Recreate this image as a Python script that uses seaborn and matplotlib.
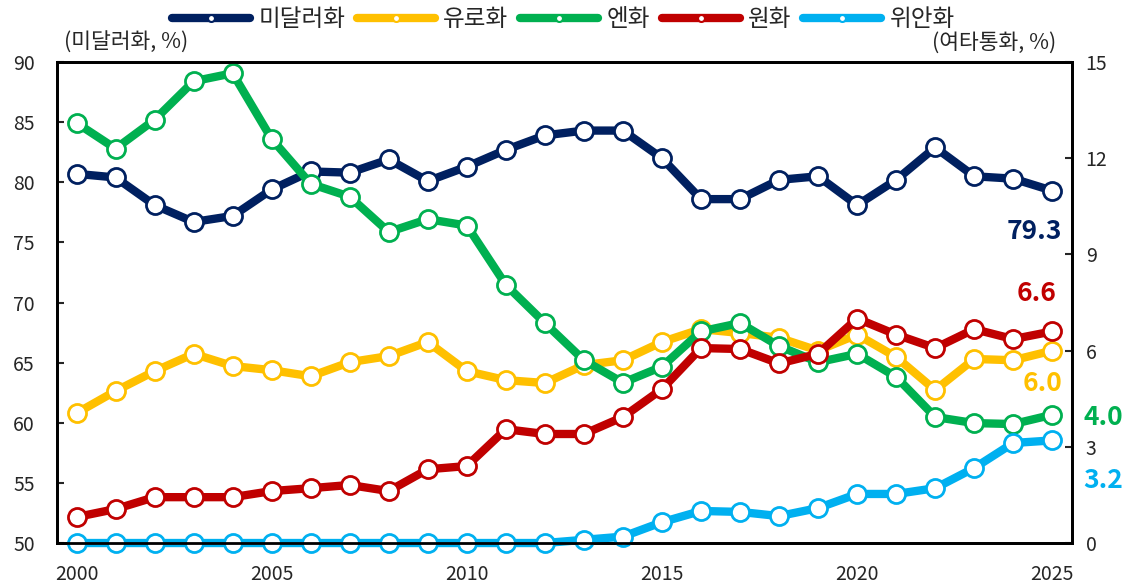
import numpy as np
import pandas as pd
import matplotlib
matplotlib.use('Agg')
import matplotlib.pyplot as plt
import seaborn as sns
from matplotlib.lines import Line2D
from matplotlib.ticker import MultipleLocator

# data (share of global FX transactions, %)
years = list(range(2000, 2026))
usd = [80.7, 80.4, 78.1, 76.7, 77.2, 79.4, 80.9, 80.8, 81.9, 80.1, 81.3, 82.7, 83.9,
       84.3, 84.3, 82.0, 78.6, 78.6, 80.2, 80.5, 78.1, 80.2, 82.9, 80.5, 80.3, 79.3]
eur = [4.05, 4.74, 5.36, 5.9, 5.52, 5.39, 5.2, 5.64, 5.83, 6.27, 5.36, 5.08, 4.99,
       5.55, 5.7, 6.27, 6.67, 6.55, 6.4, 6.0, 6.5, 5.8, 4.77, 5.74, 5.7, 6.0]
jpy = [13.1, 12.3, 13.2, 14.4, 14.65, 12.6, 11.2, 10.8, 9.7, 10.1, 9.9, 8.05, 6.86,
       5.7, 5.0, 5.5, 6.6, 6.86, 6.14, 5.64, 5.9, 5.18, 3.93, 3.74, 3.71, 4.0]
krw = [0.81, 1.06, 1.43, 1.43, 1.43, 1.62, 1.71, 1.81, 1.62, 2.3, 2.4, 3.55, 3.4,
       3.4, 3.93, 4.8, 6.08, 6.05, 5.6, 5.9, 7.0, 6.5, 6.08, 6.67, 6.36, 6.6]
cny = [0, 0, 0, 0, 0, 0, 0, 0, 0, 0, 0, 0, 0,
       0.1, 0.2, 0.65, 1.0, 0.97, 0.84, 1.09, 1.53, 1.53, 1.71, 2.34, 3.12, 3.2]

names = ['미달러화', '유로화', '엔화', '원화', '위안화']
colors = {'미달러화': '#002060', '유로화': '#FFC000', '엔화': '#00B050',
          '원화': '#C00000', '위안화': '#00B0F0'}

df = pd.DataFrame({'year': years, '미달러화': usd, '유로화': eur,
                   '엔화': jpy, '원화': krw, '위안화': cny})

sns.set_style('white')
plt.rcParams['font.family'] = ['Noto Sans CJK KR', 'DejaVu Sans']

fig = plt.figure(figsize=(11.27, 5.88), dpi=100)
ax = fig.add_axes([0.0506, 0.0765, 0.9004, 0.818])
ax2 = ax.twinx()

line_kw = dict(linewidth=6, marker='o', markersize=13, markerfacecolor='white',
               markeredgewidth=2, legend=False)

sns.lineplot(data=df, x='year', y='미달러화', ax=ax, color=colors['미달러화'],
             markeredgecolor=colors['미달러화'], **line_kw)
for nm in ['유로화', '엔화', '원화', '위안화']:
    sns.lineplot(data=df, x='year', y=nm, ax=ax2, color=colors[nm],
                 markeredgecolor=colors[nm], clip_on=False, **line_kw)

ax.set_xlim(1999.5, 2025.5)
ax.set_ylim(50, 90)
ax2.set_ylim(0, 15)
ax.set_yticks(range(50, 91, 5))
ax2.set_yticks(range(0, 16, 3))
ax.set_xticks(range(2000, 2026, 5))
ax.xaxis.set_minor_locator(MultipleLocator(1))
ax.set_xlabel('')
ax.set_ylabel('')
ax2.set_ylabel('')

for a in (ax, ax2):
    for sp in a.spines.values():
        sp.set_linewidth(2)
        sp.set_color('black')
ax.tick_params(axis='y', direction='in', length=5, width=1.5, pad=16, labelsize=14)
ax.tick_params(axis='x', which='both', direction='in', length=5, width=1.5, pad=15, labelsize=14)
ax2.tick_params(axis='y', direction='in', length=5, width=1.5, pad=10, labelsize=14)

# end-of-series value labels
ax.text(2025.25, 79.3 - 3.4, '79.3', color=colors['미달러화'], fontsize=19,
        fontweight='bold', ha='right', va='center')
ax2.text(2025.1, 7.78, '6.6', color=colors['원화'], fontsize=19,
         fontweight='bold', ha='right', va='center')
ax2.text(2025.25, 4.99, '6.0', color=colors['유로화'], fontsize=19,
         fontweight='bold', ha='right', va='center')
ax2.text(2026.3, 3.9, '4.0', color=colors['엔화'], fontsize=19,
         fontweight='bold', ha='center', va='center', clip_on=False)
ax2.text(2026.3, 1.96, '3.2', color=colors['위안화'], fontsize=19,
         fontweight='bold', ha='center', va='center', clip_on=False)

fig.text(0.057, 0.927, '(미달러화, %)', fontsize=15.5, ha='left', va='center')
fig.text(0.937, 0.927, '(여타통화, %)', fontsize=15.5, ha='right', va='center')

handles = [Line2D([0], [0], color=colors[n], linewidth=6, marker='o', markersize=5,
                  markerfacecolor='white', markeredgecolor=colors[n], markeredgewidth=1.5)
           for n in names]
fig.legend(handles, names, loc='center', bbox_to_anchor=(0.5, 0.966), ncol=5,
           frameon=False, fontsize=17, handlelength=3.3, handletextpad=0.35,
           columnspacing=0.5)

fig.savefig('out.png', dpi=100)
